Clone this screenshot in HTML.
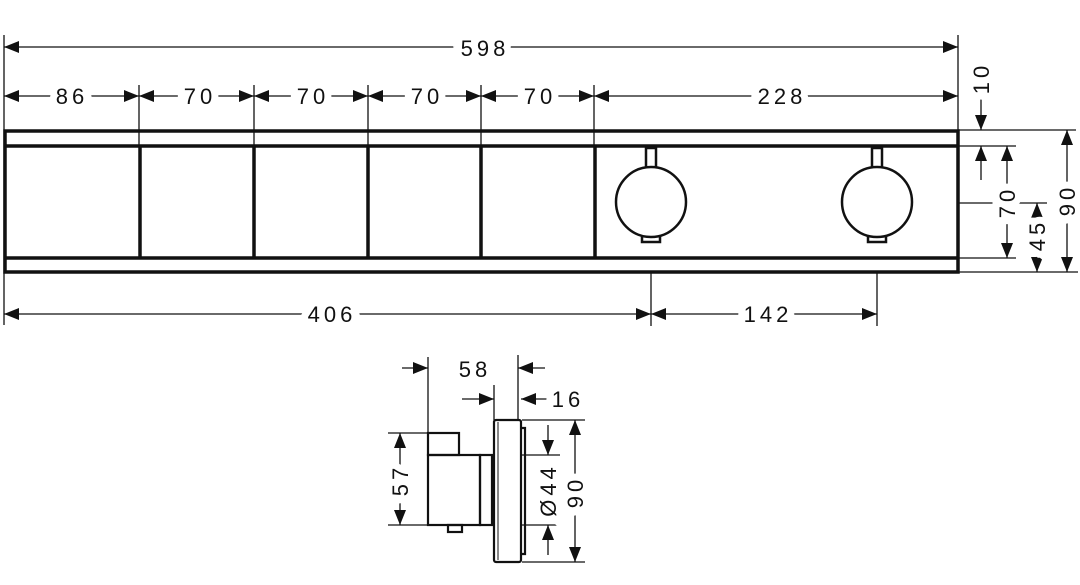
<!DOCTYPE html>
<html><head><style>html,body{margin:0;padding:0;background:#fff}svg{display:block}
text{font-family:"Liberation Sans",sans-serif;font-size:22px;letter-spacing:4px;fill:#111;paint-order:stroke;stroke:#fff;stroke-width:14px}</style></head>
<body>
<svg width="1080" height="585" viewBox="0 0 1080 585" xmlns="http://www.w3.org/2000/svg">
<defs><marker id="a" markerUnits="userSpaceOnUse" markerWidth="16" markerHeight="12" refX="15" refY="6" orient="auto-start-reverse"><path d="M0,0 L15,6 L0,12 z" fill="#111"/></marker></defs>
<g stroke="#111" fill="none" stroke-width="1.3">
<line x1="4" y1="35" x2="4" y2="325"/>
<line x1="958" y1="35" x2="958" y2="130"/>
<line x1="139" y1="85" x2="139" y2="146"/><line x1="254" y1="85" x2="254" y2="146"/>
<line x1="368" y1="85" x2="368" y2="146"/><line x1="481" y1="85" x2="481" y2="146"/>
<line x1="594" y1="85" x2="594" y2="146"/>
<line x1="958" y1="130" x2="1076" y2="130"/><line x1="958" y1="146" x2="1016" y2="146"/>
<line x1="958" y1="203" x2="1047" y2="203"/><line x1="958" y1="258" x2="1016" y2="258"/>
<line x1="958" y1="272" x2="1078" y2="272"/>
<line x1="651" y1="272" x2="651" y2="326"/><line x1="877" y1="272" x2="877" y2="326"/>
<line x1="4" y1="47" x2="958" y2="47" marker-start="url(#a)" marker-end="url(#a)"/>
<line x1="4" y1="96" x2="139" y2="96" marker-start="url(#a)" marker-end="url(#a)"/>
<line x1="139" y1="96" x2="254" y2="96" marker-start="url(#a)" marker-end="url(#a)"/>
<line x1="254" y1="96" x2="368" y2="96" marker-start="url(#a)" marker-end="url(#a)"/>
<line x1="368" y1="96" x2="481" y2="96" marker-start="url(#a)" marker-end="url(#a)"/>
<line x1="481" y1="96" x2="594" y2="96" marker-start="url(#a)" marker-end="url(#a)"/>
<line x1="594" y1="96" x2="958" y2="96" marker-start="url(#a)" marker-end="url(#a)"/>
<line x1="4" y1="314" x2="651" y2="314" marker-start="url(#a)" marker-end="url(#a)"/>
<line x1="651" y1="314" x2="877" y2="314" marker-start="url(#a)" marker-end="url(#a)"/>
<line x1="981" y1="95" x2="981" y2="130" marker-end="url(#a)"/>
<line x1="981" y1="180" x2="981" y2="146" marker-end="url(#a)"/>
<line x1="1007" y1="146" x2="1007" y2="258" marker-start="url(#a)" marker-end="url(#a)"/>
<line x1="1037" y1="203" x2="1037" y2="272" marker-start="url(#a)" marker-end="url(#a)"/>
<line x1="1067" y1="130" x2="1067" y2="272" marker-start="url(#a)" marker-end="url(#a)"/>
</g>
<g stroke="#111" fill="none" stroke-width="3.5">
<rect x="5" y="131" width="953" height="141"/>
<line x1="5" y1="146" x2="958" y2="146"/><line x1="5" y1="258" x2="958" y2="258"/>
<line x1="140" y1="146" x2="140" y2="258"/><line x1="254" y1="146" x2="254" y2="258"/>
<line x1="368" y1="146" x2="368" y2="258"/><line x1="481" y1="146" x2="481" y2="258"/>
<line x1="595" y1="146" x2="595" y2="258"/>
</g>
<g stroke="#111" fill="#fff" stroke-width="2.5">
<rect x="646" y="148" width="10" height="22"/><rect x="642" y="232" width="18" height="10"/>
<circle cx="651" cy="202" r="35"/>
<rect x="872" y="148" width="10" height="22"/><rect x="868" y="232" width="18" height="10"/>
<circle cx="877" cy="202" r="35"/>
</g>
<g stroke="#111" fill="none" stroke-width="1.3">
<line x1="428" y1="357" x2="428" y2="433"/><line x1="518" y1="355" x2="518" y2="420"/>
<line x1="494" y1="385" x2="494" y2="420"/>
<line x1="402" y1="368" x2="428" y2="368" marker-end="url(#a)"/>
<line x1="545" y1="368" x2="518" y2="368" marker-end="url(#a)"/>
<line x1="462" y1="399" x2="494" y2="399" marker-end="url(#a)"/>
<line x1="550" y1="399" x2="521" y2="399" marker-end="url(#a)"/>
<line x1="388" y1="433" x2="428" y2="433"/><line x1="388" y1="525" x2="428" y2="525"/>
<line x1="400" y1="433" x2="400" y2="525" marker-start="url(#a)" marker-end="url(#a)"/>
<line x1="522" y1="455" x2="560" y2="455"/><line x1="522" y1="525" x2="560" y2="525"/>
<line x1="548" y1="425" x2="548" y2="455" marker-end="url(#a)"/>
<line x1="548" y1="555" x2="548" y2="525" marker-end="url(#a)"/>
<line x1="522" y1="420" x2="585" y2="420"/><line x1="522" y1="562" x2="585" y2="562"/>
<line x1="575" y1="420" x2="575" y2="562" marker-start="url(#a)" marker-end="url(#a)"/>
</g>
<g stroke="#111" fill="none" stroke-width="2.2">
<rect x="494" y="420" width="27" height="142" rx="2"/>
<line x1="498" y1="422" x2="498" y2="560" stroke-width="1"/>
<path d="M521,428 H525 V554 H521"/>
<rect x="428" y="455" width="52" height="70"/>
<rect x="428" y="433" width="31" height="22"/>
<rect x="480" y="455" width="12" height="70"/>
<rect x="448" y="525" width="14" height="7"/>
</g>
<text x="485" y="56" text-anchor="middle">598</text>
<text x="72" y="104" text-anchor="middle">86</text>
<text x="200" y="104" text-anchor="middle">70</text>
<text x="313" y="104" text-anchor="middle">70</text>
<text x="427" y="104" text-anchor="middle">70</text>
<text x="540" y="104" text-anchor="middle">70</text>
<text x="782" y="104" text-anchor="middle">228</text>
<text x="332" y="322" text-anchor="middle">406</text>
<text x="768" y="322" text-anchor="middle">142</text>
<text transform="translate(989,78) rotate(-90)" text-anchor="middle">10</text>
<text transform="translate(1015,202) rotate(-90)" text-anchor="middle">70</text>
<text transform="translate(1045,235) rotate(-90)" text-anchor="middle">45</text>
<text transform="translate(1075,200) rotate(-90)" text-anchor="middle">90</text>
<text x="475" y="377" text-anchor="middle">58</text>
<text x="568" y="407" text-anchor="middle">16</text>
<text transform="translate(408,480) rotate(-90)" text-anchor="middle">57</text>
<text transform="translate(556,490) rotate(-90)" text-anchor="middle">Ø44</text>
<text transform="translate(583,492) rotate(-90)" text-anchor="middle">90</text>
</svg>
</body></html>
